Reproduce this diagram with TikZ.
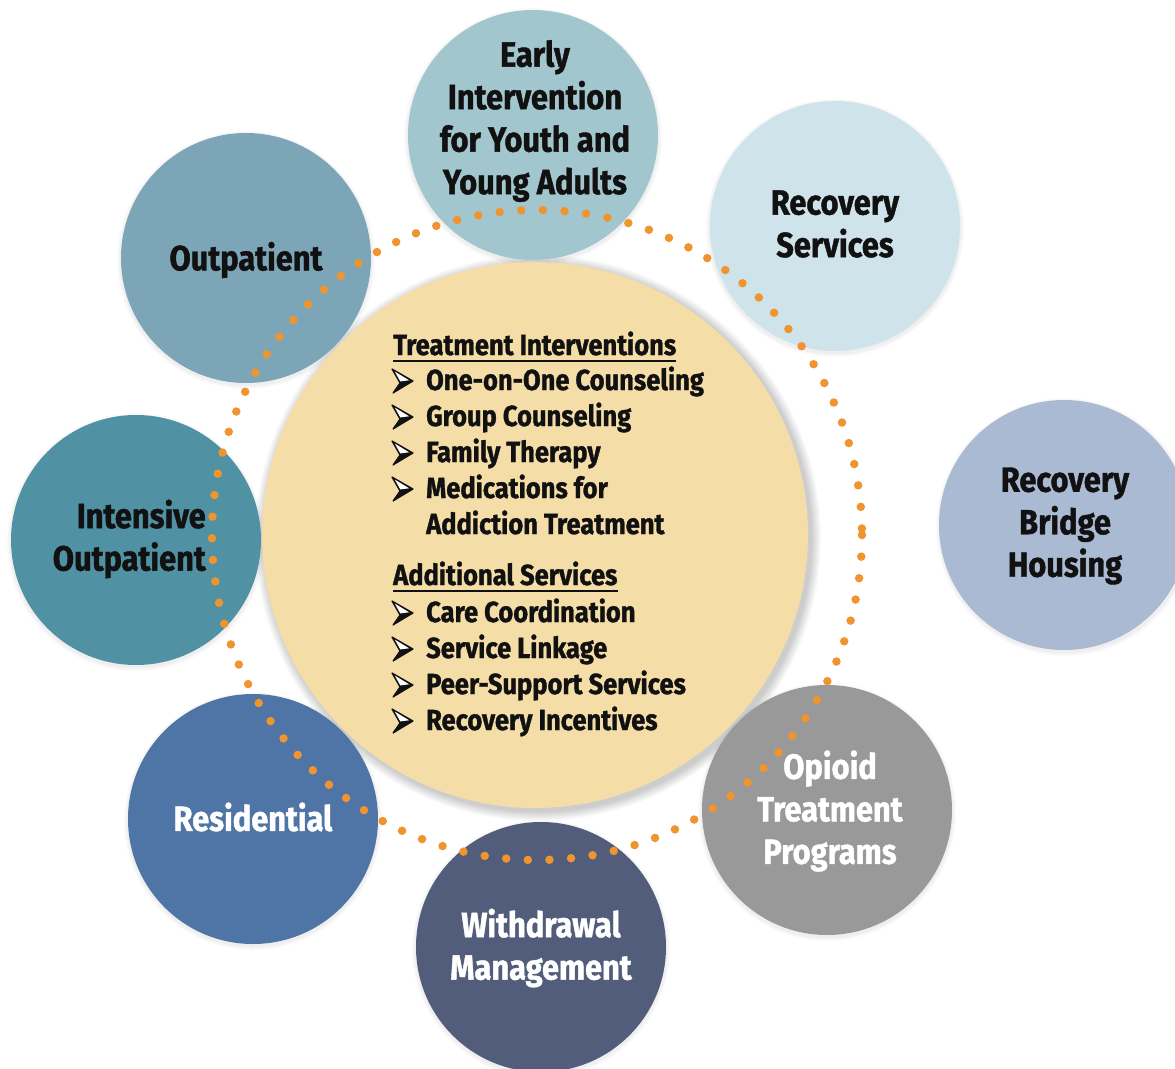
\documentclass[tikz,border=0pt]{standalone}
\usepackage{fontspec}
\setmainfont{Fira Sans}[FakeStretch=0.88, BoldFeatures={FakeBold=1.2}]
\definecolor{ink}{HTML}{111111}
\definecolor{cEarly}{HTML}{A2C6CE}
\definecolor{cRecov}{HTML}{CFE3EB}
\definecolor{cOut}{HTML}{7CA6B8}
\definecolor{cIntens}{HTML}{5091A4}
\definecolor{cBridge}{HTML}{AABAD3}
\definecolor{cResid}{HTML}{4E75A5}
\definecolor{cWithd}{HTML}{515D7A}
\definecolor{cOpioid}{HTML}{999999}
\definecolor{cCenter}{HTML}{F4DDA7}
\definecolor{cDot}{HTML}{F09430}
\begin{document}
\begin{tikzpicture}[x=1pt,y=-1pt,
  bubble/.style={circle, minimum size=250pt, inner sep=0pt, draw=none},
  lbl/.style={font=\fontsize{35}{42.5}\selectfont\bfseries, align=center, inner sep=0pt, text=ink},
  wlbl/.style={lbl, text=white},
  item/.style={anchor=base west, inner sep=0pt, font=\fontsize{29}{36}\selectfont\bfseries, text=ink},
  ring/.style={draw=cDot, line width=8.5pt, line cap=round, dash pattern=on 0pt off 21.657pt},
  arrowbul/.pic={
    \filldraw[ink, line width=1.2pt, line join=round] (0,0) -- (21,12) -- (1,24) -- (8,14) -- cycle;
    \fill[white] (2.8,2.6) -- (17.2,11.3) -- (8.3,12.4) -- cycle;
  }
]
\useasboundingbox (0,0) rectangle (1175,1068);
\clip (0,0) rectangle (1175,1068);
\fill[white] (0,0) rectangle (1175,1068);

% soft shadows
\foreach \k in {1,...,10}
  \fill[black, opacity=0.018] (538,538) circle ({273+\k});
\foreach \p in {(533,137),(835,228),(246,260),(136,542),(1065,527),(253,821),(541,949),(827,812)}
  \foreach \k in {1,...,4}
    \fill[black, opacity=0.015] \p circle ({125+\k});

% circles
\node[bubble, minimum size=546pt, fill=cCenter] (center) at (535,535) {};
\node[bubble, fill=cEarly]   (early)  at (533,135) {};
\node[bubble, fill=cRecov]   (recov)  at (835,226) {};
\node[bubble, fill=cOut]     (outp)   at (246,258) {};
\node[bubble, fill=cIntens]  (intens) at (136,540) {};
\node[bubble, fill=cBridge]  (bridge) at (1064,525) {};
\node[bubble, fill=cResid]   (resid)  at (253,819) {};
\node[bubble, fill=cWithd]   (withd)  at (541,947) {};
\node[bubble, fill=cOpioid]  (opioid) at (827,810) {};

% dotted ring
\draw[ring] (537,535) circle (325);

% outer labels
\node[lbl] (tEarly) at (535,121) {Early\\Intervention\\for Youth and\\Young Adults};
\node[lbl] (tRecov) at (835,224) {Recovery\\Services};
\node[lbl] (tOut) at (246,260) {Outpatient};
\node[lbl, align=right, anchor=east] (tIntens) at (206,539) {Intensive\\Outpatient};
\node[lbl] (tBridge) at (1065,526) {Recovery\\Bridge\\Housing};
\node[wlbl] (tResid) at (253,817) {Residential};
\node[wlbl] (tWithd) at (541,948) {Withdrawal\\Management};
\node[wlbl] (tOpioid) at (830,811) {Opioid\\Treatment\\Programs};

% center list
\node[item] (h1) at (393,355) {Treatment Interventions};
\draw[ink, line width=1.8pt] ([yshift=-6pt]h1.base west) -- ([yshift=-6pt]h1.base east);
\pic (b1) at (392,369) {arrowbul};
\node[item] (i1) at (426,390) {One-on-One Counseling};
\pic (b2) at (392,405) {arrowbul};
\node[item] (i2) at (426,426) {Group Counseling};
\pic (b3) at (392,441) {arrowbul};
\node[item] (i3) at (426,462) {Family Therapy};
\pic (b4) at (392,477) {arrowbul};
\node[item] (i4) at (426,498) {Medications for};
\node[item] (i5) at (426,534) {Addiction Treatment};

\node[item] (h2) at (393,585) {Additional Services};
\draw[ink, line width=1.8pt] ([yshift=-6pt]h2.base west) -- ([yshift=-6pt]h2.base east);
\pic (b6) at (392,601) {arrowbul};
\node[item] (i6) at (426,622) {Care Coordination};
\pic (b7) at (392,637) {arrowbul};
\node[item] (i7) at (426,658) {Service Linkage};
\pic (b8) at (392,673) {arrowbul};
\node[item] (i8) at (426,694) {Peer-Support Services};
\pic (b9) at (392,709) {arrowbul};
\node[item] (i9) at (426,730) {Recovery Incentives};
\end{tikzpicture}
\end{document}
